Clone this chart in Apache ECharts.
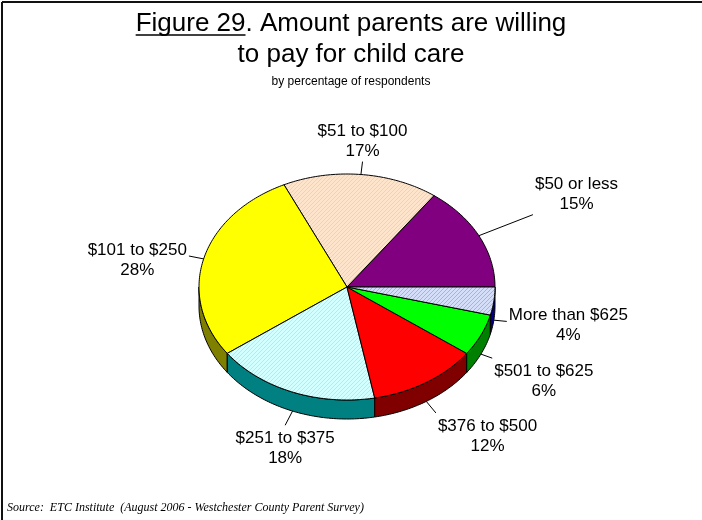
<!DOCTYPE html>
<html>
<head>
<meta charset="utf-8">
<script src="https://cdn.jsdelivr.net/npm/echarts@6/dist/echarts.min.js"></script>
<style>
  html, body { margin: 0; padding: 0; background: #fff; }
  #chart { width: 702px; height: 520px; }
</style>
</head>
<body>
<div id="chart"></div>
<script>
// Survey answers: amount parents are willing to pay for child care
const categories = ['$50 or less', '$51 to $100', '$101 to $250', '$251 to $375', '$376 to $500', '$501 to $625', 'More than $625'];
const percents = [15, 17, 28, 18, 12, 6, 4];

// Slice styling (top face, side wall)
const FONT = '"Liberation Sans", Arial, Helvetica, sans-serif';
function hatch(base, line) {
  const c = document.createElement('canvas');
  c.width = 4; c.height = 4;
  const g = c.getContext('2d');
  g.fillStyle = base; g.fillRect(0, 0, 4, 4);
  g.fillStyle = line;
  for (let k = 0; k < 4; k++) g.fillRect(k, 3 - k, 1, 1);
  return { image: c, repeat: 'repeat' };
}
const topColors = [
  '#800080',
  hatch('#FFE4CC', '#FFCBA8'),
  '#FFFF00',
  hatch('#D2FFFF', '#A8EEF4'),
  '#FF0000',
  '#00FF00',
  hatch('#D4DEF8', '#9EB4E6')
];
const wallColors = ['#400040', '#806050', '#808000', '#008080', '#800000', '#008000', '#000080'];
// Leader line length for each slice label
const leaderLen = [58, 13, 15, 16, 15, 12, 13];

// Pie geometry (tilted ellipse with a side wall)
const cx = 347, cy = 287, rx = 148, ry = 113, depth = 19;
const total = percents.reduce((a, b) => a + b, 0);
const cumulative = [];
percents.reduce((acc, v) => { cumulative.push(acc); return acc + v; }, 0);

function pt(deg, dy) {
  const r = deg * Math.PI / 180;
  return [cx + rx * Math.cos(r), cy - ry * Math.sin(r) + (dy || 0)];
}
function arcPoints(a1, a2, dy) {
  const pts = [];
  const n = Math.max(2, Math.ceil(Math.abs(a2 - a1)));
  for (let k = 0; k <= n; k++) pts.push(pt(a1 + (a2 - a1) * k / n, dy));
  return pts;
}

const measureCtx = document.createElement('canvas').getContext('2d');
function textWidth(str, size) {
  measureCtx.font = size + 'px ' + FONT;
  return Math.max.apply(null, str.split('\n').map(s => measureCtx.measureText(s).width));
}

function renderSlice(params, api) {
  const i = params.dataIndex;
  const v = api.value(0);
  const a1 = cumulative[i] / total * 360;
  const a2 = (cumulative[i] + v) / total * 360;
  const children = [];

  // front side wall (visible half of the rim)
  const s = Math.max(a1, 180), e = Math.min(a2, 360);
  if (e > s) {
    const wall = arcPoints(s, e, 0).concat(arcPoints(e, s, depth));
    children.push({
      type: 'polygon', z2: 1,
      shape: { points: wall },
      style: { fill: wallColors[i], stroke: '#000', lineWidth: 1 }
    });
  }

  // top face
  children.push({
    type: 'polygon', z2: 5,
    shape: { points: [[cx, cy]].concat(arcPoints(a1, a2, 0)) },
    style: { fill: topColors[i], stroke: '#000', lineWidth: 1, lineJoin: 'round' }
  });

  // leader line and label
  const mid = (a1 + a2) / 2;
  const rad = mid * Math.PI / 180;
  const c = Math.cos(rad), sn = Math.sin(rad);
  const A = pt(mid, sn < 0 ? depth : 0);
  const dx = rx * c, dyv = -ry * sn;
  const norm = Math.hypot(dx, dyv);
  const E = [A[0] + dx / norm * leaderLen[i], A[1] + dyv / norm * leaderLen[i]];
  children.push({
    type: 'line', z2: 10,
    shape: { x1: A[0], y1: A[1], x2: E[0], y2: E[1] },
    style: { stroke: '#000', lineWidth: 1 }
  });

  const label = categories[i] + '\n' + v + '%';
  const w = textWidth(label, 17);
  const lh = 20;
  let tx = E[0], ty = E[1] + 4;
  if (c > 0.5) tx = E[0] + 2 + w / 2;
  else if (c < -0.5) tx = E[0] - 2 - w / 2;
  if (sn > 0.3) ty = E[1] - lh;
  else if (sn < -0.3) ty = E[1] + lh + 3;
  children.push({
    type: 'text', z2: 10,
    style: {
      text: label, x: tx, y: ty, align: 'center', verticalAlign: 'middle',
      fontSize: 17, fontFamily: FONT, lineHeight: lh, fill: '#000'
    }
  });

  return { type: 'group', children: children };
}

const chart = echarts.init(document.getElementById('chart'), null, { renderer: 'canvas' });

const titleLine1 = 'Figure 29. Amount parents are willing';
const titleSize = 26;
const t1w = textWidth(titleLine1, titleSize);
const figW = textWidth('Figure 29', titleSize);
const titleLeft = 351 - t1w / 2;

chart.setOption({
  backgroundColor: '#fff',
  animation: false,
  graphic: [
    { type: 'line', shape: { x1: 2, y1: 2, x2: 702, y2: 2 }, style: { stroke: '#111', lineWidth: 2 } },
    { type: 'line', shape: { x1: 2, y1: 2, x2: 2, y2: 520 }, style: { stroke: '#111', lineWidth: 2 } },
    { type: 'text', style: { text: titleLine1, x: 351, y: 24, align: 'center', verticalAlign: 'middle', fontSize: titleSize, fontFamily: FONT, fill: '#000' } },
    { type: 'line', shape: { x1: titleLeft, y1: 35, x2: titleLeft + figW, y2: 35 }, style: { stroke: '#000', lineWidth: 1.5 } },
    { type: 'text', style: { text: 'to pay for child care', x: 351, y: 55, align: 'center', verticalAlign: 'middle', fontSize: titleSize, fontFamily: FONT, fill: '#000' } },
    { type: 'text', style: { text: 'by percentage of respondents', x: 351, y: 82, align: 'center', verticalAlign: 'middle', fontSize: 12, fontFamily: FONT, fill: '#000' } },
    { type: 'text', style: { text: 'Source:  ETC Institute  (August 2006 - Westchester County Parent Survey)', x: 7, y: 508, align: 'left', verticalAlign: 'middle', fontSize: 12, fontStyle: 'italic', fontFamily: '"Liberation Serif", "Times New Roman", serif', fill: '#000' } }
  ],
  series: [{
    type: 'custom',
    coordinateSystem: 'none',
    renderItem: renderSlice,
    data: percents.map(v => [v])
  }]
});
</script>
</body>
</html>
